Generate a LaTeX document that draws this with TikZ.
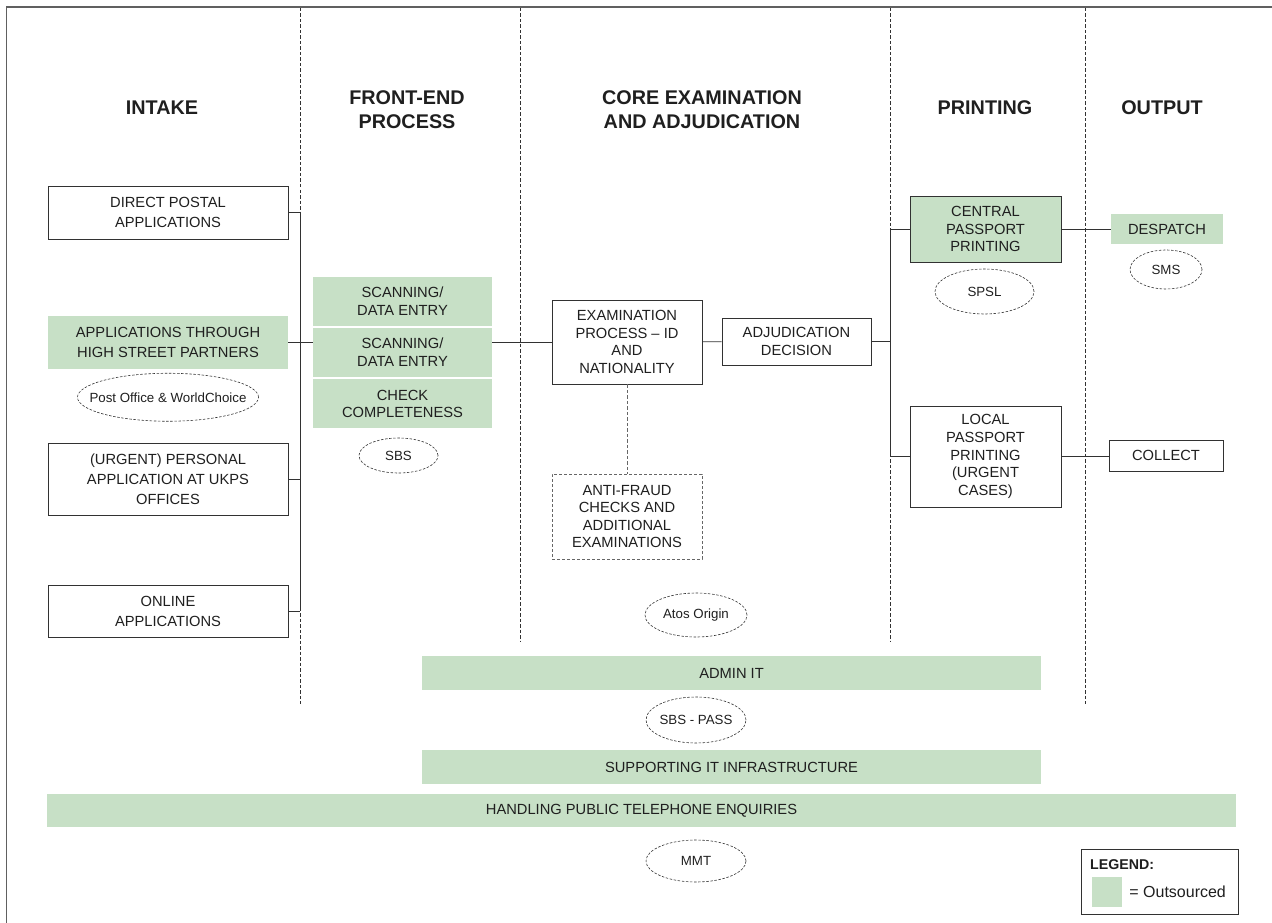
\documentclass[tikz,border=0pt]{standalone}
\usepackage{fontspec}
\setmainfont{Liberation Sans}
\usepackage{xcolor}
\usetikzlibrary{positioning,shapes.geometric}
\definecolor{outgreen}{RGB}{199,224,198}
\definecolor{edgegray}{RGB}{50,50,50}

\begin{document}
\begin{tikzpicture}[x=1pt, y=-1pt, font=\fontsize{14.7}{17.6}\selectfont, text=black!88,
    box/.style={draw=edgegray, line width=0.9pt, align=center, inner sep=0pt, minimum width=151pt},
    inbox/.style={box, minimum width=240pt, minimum height=53pt, font=\fontsize{14.7}{20}\selectfont},
    outsrc/.style={fill=outgreen, draw=none, align=center, inner sep=0pt},
    fbox/.style={outsrc, minimum width=179pt, minimum height=49pt},
    bar/.style={outsrc, minimum height=34pt},
    party/.style={ellipse, draw=edgegray, line width=0.6pt, dash pattern=on 2.5pt off 1.6pt,
                  inner ysep=0pt, inner xsep=-15pt, font=\fontsize{13.3}{16}\selectfont},
    head/.style={font=\fontsize{19.8}{24}\selectfont\bfseries, align=center},
    sep/.style={draw=edgegray, line width=0.8pt, dash pattern=on 3.5pt off 2pt},
    link/.style={draw=edgegray, line width=0.9pt}]
    \useasboundingbox (0,0) rectangle (1272,923);
    \draw[gray!75!black, line width=1.6pt] (6.5,930) |- (1280,7);

    % column separators
    \draw[sep] (300,8) -- (300,704);
    \draw[sep] (520,8) -- (520,642);
    \draw[sep] (890,8) -- (890,642);
    \draw[sep] (1085,8) -- (1085,704);

    % headings
    \node[head] (hintake) at (162,108) {INTAKE};
    \node[head] (hfront) at (407,110) {FRONT-END\\PROCESS};
    \node[head] (hcore) at (702,110) {CORE EXAMINATION\\AND ADJUDICATION};
    \node[head] (hprint) at (985,108) {PRINTING};
    \node[head] (hout) at (1162,108) {OUTPUT};

    % intake
    \node[inbox] (direct) at (168,212.5) {DIRECT POSTAL\\APPLICATIONS};
    \node[inbox, outsrc] (street) at (168,342.5) {APPLICATIONS THROUGH\\HIGH STREET PARTNERS};
    \node[party, below=3.5pt of street, minimum width=181pt, minimum height=48pt] (postoffice) {Post Office \& WorldChoice};
    \node[inbox, minimum height=72pt] (urgent) at (168,479) {(URGENT) PERSONAL\\APPLICATION AT UKPS\\OFFICES};
    \node[inbox, minimum height=52pt] (online) at (168,611) {ONLINE\\APPLICATIONS};

    % front-end
    \node[fbox] (scan1) at (402.5,301) {SCANNING/\\DATA ENTRY};
    \node[fbox, below=2pt of scan1] (scan2) {SCANNING/\\DATA ENTRY};
    \node[fbox, below=2pt of scan2] (check) {CHECK\\COMPLETENESS};
    \node[party, minimum width=79pt, minimum height=35pt] (sbs) at (398.5,455.5) {SBS};

    % core examination
    \node[box, minimum width=150pt, minimum height=84pt] (exam) at (627,342) {EXAMINATION\\PROCESS -- ID\\AND\\NATIONALITY};
    \node[box, minimum width=149pt, minimum height=47pt] (adjud) at (796.5,341.5) {ADJUDICATION\\DECISION};
    \node[box, draw=gray!80!black, dash pattern=on 3pt off 2pt, minimum width=150pt, minimum height=85pt] (fraud) at (627,516.5) {ANTI-FRAUD\\CHECKS AND\\ADDITIONAL\\EXAMINATIONS};
    \node[party, minimum width=102pt, minimum height=44pt] (atos) at (696,615) {Atos Origin};

    % printing
    \node[box, fill=outgreen, minimum height=66pt] (central) at (985.5,229) {CENTRAL\\PASSPORT\\PRINTING};
    \node[party, minimum width=99pt, minimum height=45pt] (spsl) at (984.5,291.5) {SPSL};
    \node[box, minimum height=101pt] (local) at (985.5,456.5) {LOCAL\\PASSPORT\\PRINTING\\(URGENT\\CASES)};

    % output
    \node[outsrc, minimum width=112pt, minimum height=30pt] (despatch) at (1167,229) {DESPATCH};
    \node[party, minimum width=72pt, minimum height=39pt] (sms) at (1166,269.5) {SMS};
    \node[box, minimum width=114pt, minimum height=31pt] (collect) at (1166,455.5) {COLLECT};

    % shared services
    \node[bar, minimum width=619pt] (admin) at (731.5,673) {ADMIN IT};
    \node[party, minimum width=100pt, minimum height=46pt] (pass) at (696,720) {SBS - PASS};
    \node[bar, minimum width=619pt] (infra) at (731.5,767) {SUPPORTING IT INFRASTRUCTURE};
    \node[bar, minimum width=1189pt, minimum height=33pt] (phone) at (641.5,810.5) {HANDLING PUBLIC TELEPHONE ENQUIRIES};
    \node[party, minimum width=100pt, minimum height=42pt] (mmt) at (696,861) {MMT};

    % legend
    \node[box, minimum width=157pt, minimum height=65pt] (legend) at (1159.5,881.5) {};
    \node[anchor=west, font=\fontsize{14.2}{16}\selectfont\bfseries, inner sep=0pt] (legtitle) at (1090,865) {LEGEND:};
    \node[outsrc, minimum width=30pt, minimum height=30pt] (legkey) at (1107,892) {};
    \node[right=7pt of legkey, inner sep=0pt, font=\fontsize{16}{18}\selectfont] (legtext) {= Outsourced};

    % connectors
    \coordinate (ibus) at (300,0);
    \coordinate (pbus) at (890,0);
    \draw[link] (direct.east -| ibus) -- (online.east -| ibus);
    \draw[link] (direct.east) -- (direct.east -| ibus);
    \draw[link] (urgent.east) -- (urgent.east -| ibus);
    \draw[link] (online.east) -- (online.east -| ibus);
    \draw[link] (street.east) -- (street.east -| scan2.west);
    \draw[link] (scan2.east |- exam.west) -- (exam.west);
    \draw[link] (exam) -- (adjud);
    \draw[link] (adjud.east) -- (adjud.east -| pbus);
    \draw[link] (central.west -| pbus) -- (local.west -| pbus);
    \draw[link] (central.west -| pbus) -- (central.west);
    \draw[link] (local.west -| pbus) -- (local.west);
    \draw[link] (central) -- (despatch);
    \draw[link] (local.east) -- (local.east -| collect.west);
    \draw[sep, draw=gray!80!black] (exam) -- (fraud);
\end{tikzpicture}
\end{document}
